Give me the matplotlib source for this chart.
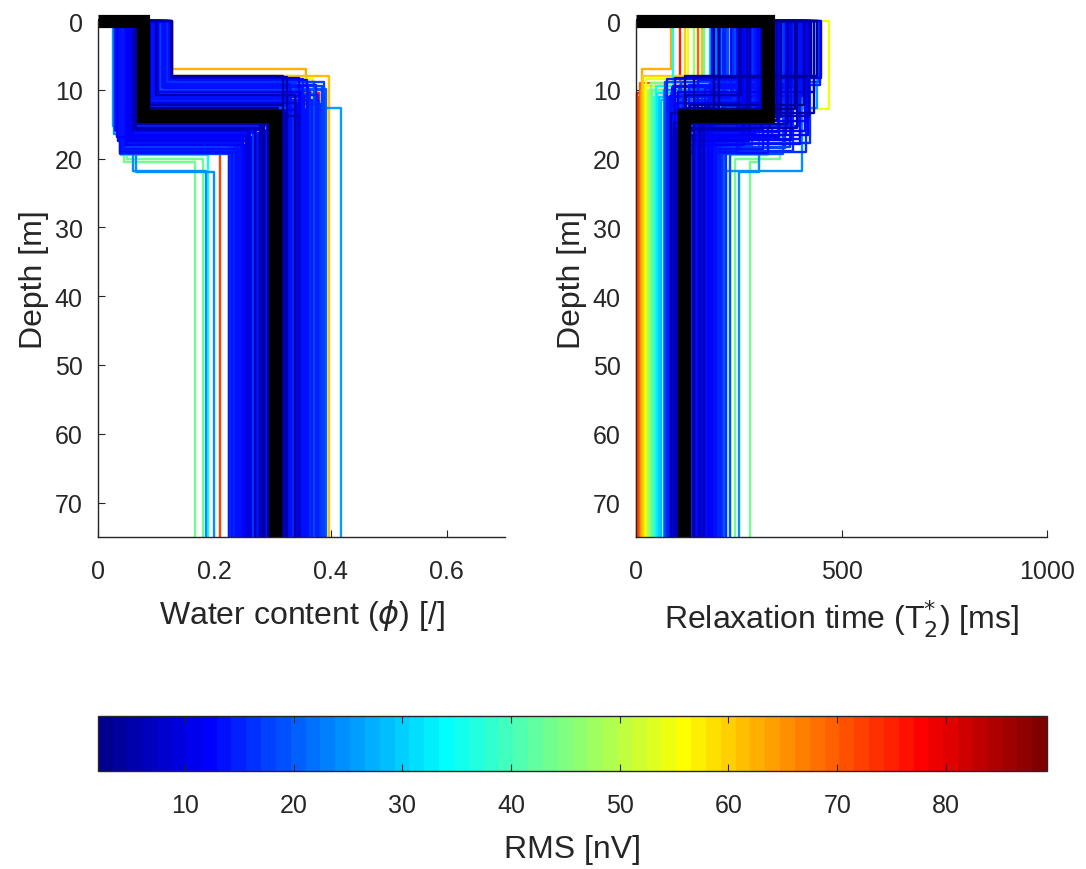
import numpy as np
import matplotlib
matplotlib.use('Agg')
import matplotlib.pyplot as plt
from matplotlib.colors import Normalize, ListedColormap
from matplotlib.cm import ScalarMappable

plt.rcParams['font.family'] = ['Liberation Sans', 'DejaVu Sans']

# 2-layer models: rms, top/bottom water content, top/bottom T2*, interface depth
# high rms models + a few outliers
rms_a = [75, 72, 69, 66, 63, 60, 57, 54, 51, 48, 45, 42, 39, 36, 33, 30, 28, 26, 24, 22, 20,
         62, 54, 44, 43, 35, 26, 24, 25]
wc_top_a = [0.100, 0.095, 0.110, 0.105, 0.128, 0.115, 0.100, 0.110, 0.095, 0.090, 0.105, 0.095, 0.085,
            0.100, 0.090, 0.095, 0.085, 0.100, 0.090, 0.080, 0.095,
            0.120, 0.090, 0.045, 0.050, 0.040, 0.035, 0.060, 0.065]
wc_bot_a = [0.380, 0.210, 0.360, 0.300, 0.357, 0.340, 0.320, 0.370, 0.290, 0.310, 0.350, 0.330, 0.280,
            0.345, 0.300, 0.325, 0.290, 0.350, 0.315, 0.280, 0.330,
            0.398, 0.350, 0.167, 0.180, 0.190, 0.418, 0.185, 0.200]
t2_top_a = [107, 230, 150, 300, 85, 120, 260, 127, 350, 140, 280, 165, 320, 90, 240, 180, 390, 210, 300,
            420, 250, 160, 470, 300, 350, 320, 440, 405, 300]
t2_bot_a = [3, 6, 9, 12, 15, 18, 22, 25, 28, 32, 36, 40, 44, 48, 52, 57, 62, 67, 72, 78, 84,
            212, 160, 277, 241, 229, 150, 218, 250]
z_int_a = [10.5, 11.0, 9.0, 10.0, 7.0, 8.0, 9.5, 8.5, 10.0, 10.5, 9.0, 10.0, 11.0, 9.5, 10.5, 11.0,
           11.5, 10.0, 11.0, 11.5, 10.5, 8.0, 12.8, 20.5, 20.0, 19.5, 12.7, 21.8, 22.0]

# low rms models (blue cloud)
rms_b = [4, 11, 14, 19, 13, 18, 13, 20, 16, 16, 15, 14, 14, 15, 15, 17, 17, 3, 13, 7, 12, 7, 15, 5,
         6, 5, 17, 7, 12, 12, 14, 11, 19, 14, 11, 16, 12, 18, 14, 17, 14, 19, 16, 19, 17, 15, 24, 26,
         6, 15, 18, 16, 15, 14, 13, 19, 11, 20, 6, 15, 13, 18, 11, 4, 20, 3, 12, 6, 15, 5, 4, 12,
         6, 6, 18, 5, 7, 13, 12, 12, 18, 11, 15, 13, 18, 18, 15, 16, 14, 14, 12, 13, 16]
wc_top_b = [0.128, 0.125, 0.122, 0.118, 0.115, 0.112, 0.110, 0.108, 0.105, 0.103, 0.100, 0.098, 0.096,
            0.094, 0.092, 0.090, 0.088, 0.086, 0.084, 0.082, 0.080, 0.078, 0.076, 0.074, 0.072, 0.070,
            0.068, 0.066, 0.064, 0.062, 0.060, 0.058, 0.056, 0.054, 0.052, 0.050, 0.048, 0.046, 0.044,
            0.042, 0.040, 0.038, 0.036, 0.034, 0.032, 0.030, 0.028, 0.026,
            0.127, 0.124, 0.121, 0.119, 0.116, 0.113, 0.111, 0.107, 0.104, 0.101, 0.099, 0.097, 0.093,
            0.091, 0.089, 0.087, 0.085, 0.083, 0.081, 0.079, 0.077, 0.075, 0.073, 0.071, 0.069, 0.067,
            0.065, 0.063, 0.061, 0.059, 0.057, 0.055, 0.053, 0.051, 0.049, 0.047, 0.045, 0.043, 0.041,
            0.039, 0.037, 0.035, 0.033, 0.031, 0.029]
wc_bot_b = [0.318, 0.345, 0.360, 0.372, 0.330, 0.385, 0.350, 0.392, 0.365, 0.340, 0.378, 0.355, 0.325,
            0.368, 0.348, 0.382, 0.335, 0.310, 0.358, 0.322, 0.300, 0.345, 0.290, 0.318, 0.305, 0.280,
            0.296, 0.270, 0.288, 0.262, 0.275, 0.255, 0.268, 0.248, 0.260, 0.240, 0.252, 0.235, 0.245,
            0.228, 0.238, 0.225, 0.232, 0.242, 0.228, 0.236, 0.250, 0.262,
            0.325, 0.352, 0.388, 0.340, 0.375, 0.362, 0.332, 0.386, 0.348, 0.372, 0.338, 0.360, 0.328,
            0.380, 0.342, 0.318, 0.352, 0.308, 0.338, 0.298, 0.328, 0.312, 0.285, 0.300, 0.278, 0.292,
            0.266, 0.283, 0.258, 0.272, 0.250, 0.264, 0.244, 0.256, 0.238, 0.248, 0.232, 0.242, 0.226,
            0.236, 0.230, 0.246, 0.254, 0.240, 0.258]
t2_top_b = [440, 450, 300, 445, 380, 260, 410, 350, 200, 415, 330, 405, 230, 395, 280, 385, 360, 190,
            347, 270, 340, 420, 215, 343, 320, 250, 397, 325, 305, 412, 292, 365, 240, 400, 275, 423,
            262, 375, 310, 383, 245, 357, 233, 222, 212, 287, 195, 183,
            425, 205, 390, 337, 447, 295, 372, 225, 432, 315, 255, 402, 186, 368, 335, 408, 248, 388,
            298, 434, 265, 352, 202, 417, 303, 370, 237, 392, 277, 345, 418, 257, 332, 378, 217, 398,
            283, 362, 252, 413, 322, 267, 348, 302, 236]
t2_bot_b = [120, 95, 150, 70, 180, 105, 88, 135, 160, 200, 115, 82, 190, 145, 170, 100, 210, 125,
            92, 155, 185, 110, 205, 140, 165, 130, 220, 98, 175, 150, 195, 118, 228, 160, 138, 182,
            105, 200, 148, 172, 125, 190, 85, 208, 158, 132, 178, 112,
            140, 75, 110, 195, 128, 90, 168, 145, 102, 188, 122, 80, 175, 152, 95, 132, 215, 108,
            162, 85, 198, 142, 118, 178, 92, 155, 208, 128, 100, 170, 138, 88, 192, 115, 160, 145,
            78, 185, 130, 168, 112, 150, 96, 120, 180]
z_int_b = [8.0, 8.3, 8.6, 8.9, 9.1, 9.4, 9.6, 9.9, 10.2, 10.4, 10.7, 10.9, 11.2, 11.5, 11.8, 12.0,
           12.3, 12.6, 12.9, 13.2, 13.5, 13.8, 14.1, 14.4, 14.6, 14.9, 15.2, 15.5, 15.8, 16.0, 16.3,
           16.6, 16.9, 17.2, 17.4, 17.7, 18.0, 18.3, 18.6, 18.9, 19.1, 19.4, 16.0, 15.5, 16.2, 15.8,
           16.4, 15.2,
           8.2, 8.5, 8.8, 9.0, 9.3, 9.5, 9.8, 10.1, 10.3, 10.6, 10.8, 11.1, 11.4, 11.6, 11.9, 12.2,
           12.5, 12.8, 13.0, 13.3, 13.6, 13.9, 14.2, 14.5, 14.8, 15.0, 15.3, 15.6, 15.9, 16.2, 16.5,
           16.8, 17.0, 17.3, 17.6, 17.9, 18.2, 18.5, 18.8, 19.0, 19.2, 17.5, 16.8, 16.0, 15.6]

# best model (black)
best_wc = [0.078, 0.305]
best_t2 = [320, 117]
best_z = 13.8
z_max = 75

rms = rms_a + rms_b
wc_top = wc_top_a + wc_top_b
wc_bot = wc_bot_a + wc_bot_b
t2_top = t2_top_a + t2_top_b
t2_bot = t2_bot_a + t2_bot_b
z_int = z_int_a + z_int_b


def matlab_jet(n=64):
    m = int(np.ceil(n / 4))
    u = np.concatenate([np.arange(1, m + 1) / m, np.ones(m - 1), np.arange(m, 0, -1) / m])
    g = int(np.ceil(m / 2)) - (n % 4 == 1) + np.arange(1, len(u) + 1)
    r = g + m
    b = g - m
    g = g[g <= n]
    r = r[r <= n]
    b = b[b >= 1]
    J = np.zeros((n, 3))
    J[r - 1, 0] = u[:len(r)]
    J[g - 1, 1] = u[:len(g)]
    J[b - 1, 2] = u[len(u) - len(b):]
    return ListedColormap(J)


txt = '#262626'
cmap = matlab_jet(64)
norm = Normalize(2, 89.3)

fig = plt.figure(figsize=(10.86, 8.70), dpi=100)
W, H = 1086, 870
ax1 = fig.add_axes([98 / W, 1 - 538 / H, (505 - 98) / W, (538 - 22) / H])
ax2 = fig.add_axes([636 / W, 1 - 538 / H, (1047 - 636) / W, (538 - 22) / H])
cax = fig.add_axes([98 / W, 1 - 772 / H, (1047 - 98) / W, 55 / H])


def step(top, bot, z):
    return [0, top, top, bot, bot], [0, 0, z, z, z_max]


order = np.argsort(rms, kind='stable')[::-1]
for i in order:
    c = cmap(norm(rms[i]))
    x, y = step(wc_top[i], wc_bot[i], z_int[i])
    ax1.plot(x, y, color=c, lw=1.7, clip_on=False, solid_capstyle='butt')
    x, y = step(t2_top[i], t2_bot[i], z_int[i])
    ax2.plot(x, y, color=c, lw=1.7, clip_on=False, solid_capstyle='butt')

x, y = step(best_wc[0], best_wc[1], best_z)
ax1.plot(x, y, color='k', lw=9.5, clip_on=False, solid_joinstyle='miter', solid_capstyle='butt')
x, y = step(best_t2[0], best_t2[1], best_z)
ax2.plot(x, y, color='k', lw=9.5, clip_on=False, solid_joinstyle='miter', solid_capstyle='butt')

for ax in (ax1, ax2):
    ax.set_ylim(z_max, 0)
    ax.set_yticks(range(0, 80, 10))
    ax.spines['top'].set_visible(False)
    ax.spines['right'].set_visible(False)
    for s in ('left', 'bottom'):
        ax.spines[s].set_color(txt)
        ax.spines[s].set_linewidth(1.0)
    ax.tick_params(direction='in', length=5, labelsize=18, colors=txt)
    ax.tick_params(axis='x', pad=16)
    ax.tick_params(axis='y', pad=11)
    ax.set_ylabel('Depth [m]', fontsize=23, color=txt)

ax1.set_xlim(0, 0.7)
ax1.set_xticks([0, 0.2, 0.4, 0.6])
ax1.set_xticklabels(['0', '0.2', '0.4', '0.6'])
ax1.set_xlabel(r'Water content ($\mathit{\phi}$) [/]', fontsize=23, color=txt, labelpad=10)
ax2.set_xlim(0, 1000)
ax2.set_xticks([0, 500, 1000])
ax2.set_xlabel(r'Relaxation time (T$_{\mathrm{2}}^{*}$) [ms]', fontsize=23, color=txt, labelpad=10)

cb = fig.colorbar(ScalarMappable(norm=norm, cmap=cmap), cax=cax, orientation='horizontal',
                  ticks=range(10, 90, 10))
cb.outline.set_edgecolor(txt)
cb.outline.set_linewidth(1.0)
cb.ax.tick_params(direction='in', length=5, top=True, bottom=True, labelsize=18, colors=txt, pad=16)
cb.set_label('RMS [nV]', fontsize=23, color=txt, labelpad=12)

fig.savefig('out.png', dpi=100)
